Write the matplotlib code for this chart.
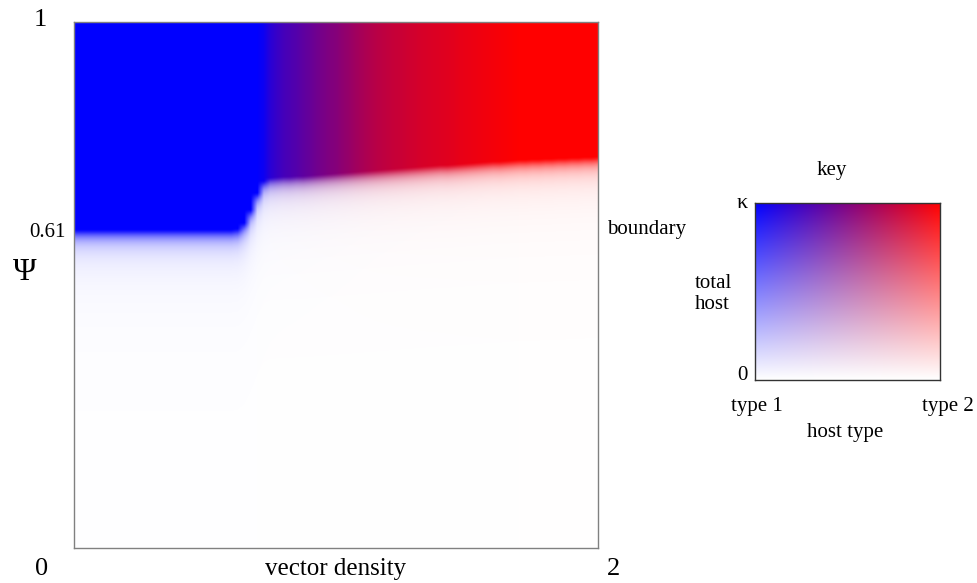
"""Host type map over vector density and Psi, with a colour key."""

import numpy as np
import matplotlib
matplotlib.use("Agg")
import matplotlib.pyplot as plt

plt.rcParams['font.family'] = ['Liberation Serif', 'DejaVu Serif']

# vector density samples (0 .. 2, every 0.025)
density = np.round(np.arange(0, 81) * 0.025, 3)

# Psi above which the host population is full, read per density sample
boundary = [0.607] * 25 + [
    0.609, 0.620, 0.645, 0.677, 0.700, 0.706,
    0.707, 0.708, 0.708, 0.709, 0.709, 0.710, 0.711, 0.712, 0.713, 0.714,
    0.715, 0.716, 0.717, 0.718, 0.719, 0.720, 0.721, 0.722, 0.723, 0.724,
    0.725, 0.726, 0.727, 0.728, 0.729, 0.730, 0.730, 0.731, 0.732, 0.733,
    0.734, 0.735, 0.736, 0.737, 0.737, 0.738, 0.739, 0.740, 0.740, 0.741,
    0.741, 0.742, 0.742, 0.743, 0.743, 0.744, 0.744, 0.745, 0.745, 0.746,
]

# share of host type 2 (0 = type 1 / blue, 1 = type 2 / red)
type2_share = [0.0] * 29 + [
    0.05, 0.16, 0.22, 0.27, 0.30, 0.33, 0.37, 0.40, 0.44, 0.47, 0.50, 0.52,
    0.56, 0.59, 0.63, 0.66, 0.69, 0.72, 0.74, 0.76, 0.78, 0.79,
    0.81, 0.82, 0.84, 0.85, 0.86, 0.87, 0.88, 0.89, 0.91, 0.92,
    0.93, 0.94, 0.95, 0.96, 0.97, 0.98, 0.99,
] + [1.0] * 13

assert len(boundary) == len(density) == len(type2_share)

fade_scale = 0.016   # how fast total host drops below the boundary
fade_power = 1.8


def host_colour(share, total):
    """Blue->red by host type, faded to white by total host."""
    base = np.stack([share, np.zeros_like(share), 1 - share], axis=-1)
    return total[..., None] * base + (1 - total[..., None]) * 1.0


W, H = 977, 583
fig = plt.figure(figsize=(W / 100, H / 100), dpi=100)


def fx(x):
    return x / W


def fy(y):
    return 1 - y / H


# main map
ax = fig.add_axes([fx(74), fy(548), (598 - 74) / W, (548 - 22) / H])
psi = np.linspace(0, 1, 526)
b = np.array(boundary)[None, :]
gap = np.clip(b - psi[:, None], 0, None)
total = 1.0 / (1.0 + (gap / fade_scale) ** fade_power)
share = np.broadcast_to(np.array(type2_share)[None, :], total.shape)
img = host_colour(share, total)
step = density[1] - density[0]
ax.imshow(img, origin='lower', aspect='auto', interpolation='bilinear',
          extent=[density[0] - step / 2, density[-1] + step / 2, 0, 1])
ax.set_xlim(0, 2)
ax.set_ylim(0, 1)
ax.set_xticks([])
ax.set_yticks([])
for s in ax.spines.values():
    s.set_color('#808080')
    s.set_linewidth(1.0)

fig.text(fx(40), fy(20), "1", fontsize=19, ha='center', va='center')
fig.text(fx(66), fy(232), "0.61", fontsize=15, ha='right', va='center')
fig.text(fx(25), fy(272), "Ψ", fontsize=23, ha='center', va='center')
fig.text(fx(42), fy(569), "0", fontsize=19, ha='center', va='center')
fig.text(fx(613), fy(569), "2", fontsize=19, ha='center', va='center')
fig.text(fx(336), fy(569), "vector density", fontsize=18,
         ha='center', va='center')
fig.text(fx(607), fy(229), "boundary", fontsize=15, ha='left', va='center')

# colour key
kax = fig.add_axes([fx(755), fy(380), (940 - 755) / W, (380 - 203) / H])
ks = np.linspace(0, 1, 200)
kt = np.linspace(0, 1, 200)
KS, KT = np.meshgrid(ks, kt)
kax.imshow(host_colour(KS, KT), origin='lower', aspect='auto',
           extent=[0, 1, 0, 1])
kax.set_xticks([])
kax.set_yticks([])
for s in kax.spines.values():
    s.set_color('#333333')
    s.set_linewidth(1.0)

fig.text(fx(832), fy(170), "key", fontsize=15, ha='center', va='center')
fig.text(fx(742), fy(203), "κ", fontsize=16, ha='center', va='center')
fig.text(fx(742), fy(376), "0", fontsize=15, ha='center', va='center')
fig.text(fx(695), fy(294), "total\nhost", fontsize=15, ha='left',
         va='center', linespacing=1.1)
fig.text(fx(757), fy(407), "type 1", fontsize=15, ha='center', va='center')
fig.text(fx(948), fy(407), "type 2", fontsize=15, ha='center', va='center')
fig.text(fx(845), fy(433), "host type", fontsize=15, ha='center',
         va='center')

fig.savefig("out.png", dpi=100)
